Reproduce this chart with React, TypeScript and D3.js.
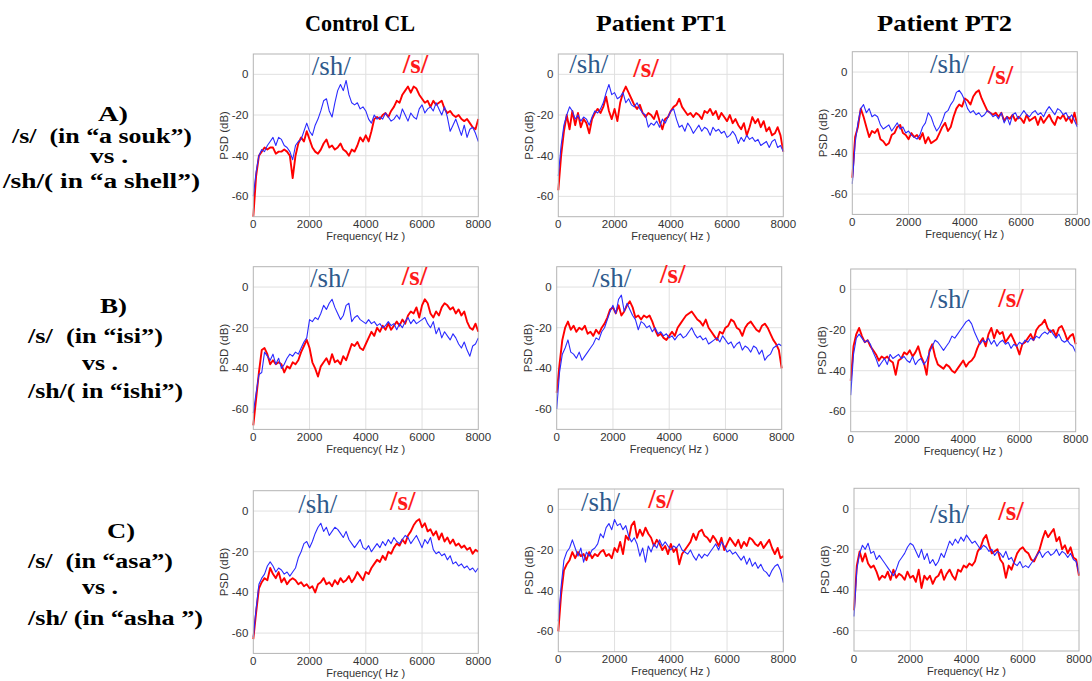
import * as d3 from "d3";

// Frequency bins shared by every spectrum (Hz)
const freqs = d3.range(0, 8001, 100);

// ---- Row A: /s/ (a souk) vs /sh/ (a shell) ----
const aClSh = [
  -60, -48, -40, -37, -38, -35, -33, -31, -35, -31,
  -32, -35, -36, -38, -42, -35, -33, -32, -28, -24,
  -28, -30, -25, -22, -18, -13, -12, -18, -21, -14,
  -8, -5, -8, -3, -10, -14, -15, -14, -17, -16,
  -18, -22, -24, -20, -22, -21, -22, -19, -21, -23,
  -22, -20, -22, -17, -20, -23, -19, -21, -22, -17,
  -15, -19, -17, -16, -18, -14, -17, -20, -16, -21,
  -28, -25, -22, -26, -30, -25, -31, -27, -26, -29,
  -33,
];
const aClS = [
  -70, -50, -40, -38, -36, -37, -36, -36, -39, -38,
  -38, -37, -38, -40, -51, -40, -34, -31, -33, -28,
  -32, -36, -38, -39, -37, -34, -32, -36, -35, -37,
  -36, -34, -37, -38, -40, -37, -38, -35, -31, -33,
  -30, -33, -28, -22, -21, -22, -20, -19, -21, -18,
  -16, -13, -14, -10, -8, -6, -9, -6, -7, -10,
  -12, -14, -13, -16, -13, -15, -14, -13, -17, -19,
  -18, -20, -21, -20, -22, -23, -22, -24, -26, -27,
  -22,
];
const aPt1Sh = [
  -50, -35, -25, -20, -16, -18, -22, -20, -23, -21,
  -22, -25, -21, -18, -19, -17, -14, -9, -5, -10,
  -9, -12, -11, -9, -14, -12, -15, -16, -14, -17,
  -19, -20, -26, -24, -25, -23, -26, -22, -24, -21,
  -18, -17, -22, -26, -25, -28, -24, -26, -29, -27,
  -25, -28, -26, -27, -30, -26, -28, -27, -29, -28,
  -31, -30, -28, -30, -34, -31, -33, -30, -32, -31,
  -33, -32, -35, -34, -33, -36, -33, -32, -36, -35,
  -38,
];
const aPt1S = [
  -57, -40, -28, -20, -27, -18, -25, -19, -26, -22,
  -24, -29, -22, -19, -17, -19, -16, -11, -18, -22,
  -17, -23, -14, -9, -6, -9, -12, -15, -17, -15,
  -19, -21, -19, -20, -22, -18, -23, -27, -22, -21,
  -18, -16, -15, -12, -16, -18, -20, -19, -21, -19,
  -20, -22, -18, -19, -17, -20, -18, -22, -19, -21,
  -23, -20, -24, -22, -25, -27, -24, -30, -26, -21,
  -24, -22, -26, -23, -28, -26, -30, -29, -26, -30,
  -38,
];
const aPt2Sh = [
  -55, -35, -25, -18, -16, -20, -18, -22, -21, -22,
  -26, -28, -27, -26, -29, -27, -25, -28, -27, -30,
  -29, -31, -32, -33, -31, -27, -25, -20, -22, -26,
  -29, -27, -24, -20, -19, -16, -14, -10, -9, -11,
  -14, -18, -20, -19, -21, -20, -22, -21, -19, -20,
  -22, -21, -23, -20, -25, -22, -26, -21, -20, -23,
  -21, -19, -21, -22, -20, -19, -21, -20, -22, -19,
  -17, -19, -21, -18, -19, -21, -20, -23, -21, -24,
  -27,
];
const aPt2S = [
  -52, -32, -27, -18, -22, -27, -32, -29, -30, -28,
  -33, -34, -36, -35, -31, -30, -27, -26, -30, -31,
  -33, -30, -32, -31, -33, -30, -35, -32, -35, -34,
  -33, -30, -27, -25, -29, -27, -22, -18, -16, -17,
  -13, -14, -16, -12, -10, -9, -13, -16, -19, -20,
  -21, -20, -22, -20, -24, -22, -23, -21, -24, -22,
  -23, -25, -21, -24, -23, -22, -26, -22, -25, -23,
  -21, -24, -26, -22, -23, -21, -24, -22, -25, -20,
  -26,
];

// ---- Row B: /s/ (isi) vs /sh/ (ishi) ----
const bClSh = [
  -62, -52, -43, -42, -32, -34, -36, -33, -38, -35,
  -40, -38, -35, -33, -34, -32, -33, -30, -27, -25,
  -16, -17, -15, -16, -13, -9, -11, -8, -6, -10,
  -13, -16, -14, -9, -8, -17, -15, -14, -16, -17,
  -18, -16, -18, -17, -19, -18, -20, -19, -17, -19,
  -18, -21, -18, -20, -17, -15, -18, -16, -18, -17,
  -16, -15, -18, -20, -17, -23, -20, -25, -22, -24,
  -26, -23, -25, -28, -30, -27, -31, -34, -29, -28,
  -25,
];
const bClS = [
  -68, -55, -42, -31, -30, -33, -38, -36, -38, -37,
  -38, -42, -39, -40, -37, -38, -36, -32, -29, -26,
  -30, -37, -40, -44, -39, -37, -35, -38, -33, -37,
  -36, -38, -34, -36, -32, -28, -29, -27, -30, -31,
  -28, -25, -22, -24, -20, -22, -19, -21, -18, -21,
  -19, -17, -19, -16, -18, -14, -12, -13, -10, -15,
  -9, -6, -8, -13, -15, -12, -14, -10, -8, -9,
  -11, -10, -13, -11, -14, -12, -17, -20, -21, -18,
  -22,
];
const bPt1Sh = [
  -60, -42, -33, -30, -26, -32, -33, -35, -32, -36,
  -34, -32, -30, -28, -25, -26, -22, -20, -16, -12,
  -9, -13, -6, -4, -12, -8, -11, -14, -16, -21,
  -17, -18, -20, -19, -22, -20, -23, -22, -24, -23,
  -25, -24, -26, -24, -23, -25, -24, -22, -20, -23,
  -25, -24, -26, -25, -28, -27, -26, -25, -27, -24,
  -26, -28, -27, -30, -28, -27, -31, -29, -30, -32,
  -29, -30, -33, -31, -36, -34, -33, -30, -29, -28,
  -29,
];
const bPt1S = [
  -52, -38, -26, -20, -17, -21, -19, -22, -20, -21,
  -19, -23, -22, -24, -21, -23, -20, -18, -15, -11,
  -10, -13, -9, -14, -12, -9, -7, -10, -15, -14,
  -16, -14, -15, -14, -17, -21, -24, -23, -25, -26,
  -24, -22, -24, -20, -18, -16, -14, -13, -12, -14,
  -16, -17, -19, -16, -20, -22, -24, -26, -22, -23,
  -20, -19, -16, -17, -20, -21, -24, -20, -18, -17,
  -19, -21, -22, -19, -18, -20, -23, -26, -28, -31,
  -40,
];
const bPt2Sh = [
  -52, -32, -24, -22, -24, -26, -25, -27, -31, -34,
  -38, -36, -34, -37, -32, -34, -33, -32, -34, -33,
  -35, -36, -33, -37, -35, -34, -37, -35, -31, -28,
  -25, -26, -28, -30, -28, -26, -23, -24, -22, -20,
  -18, -16, -15, -17, -21, -24, -27, -25, -26, -24,
  -27, -25, -28, -26, -25, -27, -26, -29, -27, -28,
  -26, -27, -25, -26, -24, -25, -23, -24, -22, -21,
  -22, -20, -22, -24, -22, -25, -26, -25, -27, -28,
  -31,
];
const bPt2S = [
  -45, -28, -22, -19, -23, -26, -25, -28, -30, -32,
  -35, -33, -34, -33, -35, -36, -42, -35, -34, -31,
  -32, -30, -33, -31, -28, -33, -36, -42, -30, -27,
  -33, -37, -38, -39, -37, -38, -40, -41, -39, -37,
  -35, -38, -36, -35, -33, -29, -26, -24, -28, -22,
  -19, -24, -20, -22, -21, -26, -24, -22, -25, -28,
  -32, -27, -26, -24, -22, -25, -20, -18, -17, -15,
  -19, -21, -20, -23, -19, -18, -21, -25, -23, -22,
  -27,
];

// ---- Row C: /s/ (asa) vs /sh/ (asha) ----
const cClSh = [
  -62, -48, -36, -33, -31, -27, -25, -27, -30, -28,
  -29, -31, -30, -32, -30, -28, -23, -20, -16, -15,
  -18, -15, -11, -8, -6, -10, -8, -12, -10, -8,
  -9, -11, -13, -10, -14, -16, -18, -16, -14, -18,
  -19, -17, -20, -18, -16, -18, -15, -17, -14, -16,
  -13, -15, -16, -14, -12, -13, -16, -14, -12, -15,
  -18, -14, -16, -13, -19, -21, -20, -22, -21, -24,
  -22, -26, -25, -27, -26, -28, -27, -29, -28, -30,
  -28,
];
const cClS = [
  -63, -50, -38, -35, -33, -34, -28, -31, -33, -30,
  -35, -33, -36, -34, -33, -34, -36, -35, -37, -36,
  -38, -37, -40, -36, -35, -33, -36, -35, -37, -34,
  -36, -33, -35, -34, -32, -35, -33, -30, -32, -34,
  -30, -31, -28, -26, -24, -25, -22, -24, -20, -21,
  -18, -16, -17, -14, -16, -12, -10, -7, -5, -4,
  -8, -6, -10, -9, -12, -10, -14, -11, -15, -13,
  -16, -14, -17, -16, -18, -17, -19, -18, -21, -19,
  -20,
];
const cPt1Sh = [
  -55, -38, -25, -21, -19, -15, -19, -23, -19, -26,
  -21, -23, -20, -19, -17, -12, -14, -9, -7, -10,
  -5, -8, -7, -10, -8, -13, -16, -14, -17, -23,
  -19, -26, -18, -21, -17, -19, -15, -18, -16, -18,
  -20, -18, -19, -17, -20, -21, -22, -20, -23, -25,
  -22, -24, -22, -23, -21, -19, -17, -20, -16, -18,
  -21, -20, -22, -21, -23, -25, -23, -27, -24, -28,
  -26, -29, -27, -30, -31, -33, -30, -28, -27, -30,
  -36,
];
const cPt1S = [
  -60, -42, -30, -27, -25, -21, -24, -21, -23, -22,
  -25, -21, -24, -22, -23, -21, -20, -23, -22, -24,
  -19, -21, -16, -22, -13, -15, -8, -6, -14, -10,
  -13, -9, -12, -14, -18, -15, -17, -20, -18, -22,
  -17, -21, -19, -27, -22, -20, -18, -16, -12, -15,
  -11, -10, -13, -14, -16, -13, -15, -18, -14, -20,
  -17, -14, -16, -18, -15, -19, -16, -18, -14, -15,
  -17, -18, -16, -19, -17, -15, -19, -22, -19, -24,
  -23,
];
const cPt2Sh = [
  -53, -30, -22, -18, -20, -17, -22, -21, -25, -23,
  -25, -27, -29, -31, -33, -30, -26, -24, -22, -19,
  -17, -18, -21, -24, -20, -25, -22, -27, -25, -28,
  -26, -22, -24, -20, -16, -18, -15, -17, -14, -16,
  -13, -15, -17, -16, -18, -20, -18, -19, -21, -20,
  -23, -21, -22, -24, -21, -25, -24, -27, -28, -26,
  -29, -28, -29, -27, -25, -23, -21, -24, -22, -21,
  -23, -22, -20, -23, -21, -22, -24, -22, -25, -26,
  -32,
];
const cPt2S = [
  -50, -28, -21, -26, -22, -27, -29, -28, -31, -35,
  -33, -34, -31, -35, -30, -34, -32, -33, -35, -31,
  -34, -33, -36, -30, -39, -33, -35, -33, -37, -34,
  -33, -30, -35, -32, -30, -33, -35, -30, -31, -28,
  -29, -27, -28, -26, -21, -19, -15, -13, -18, -22,
  -21, -20, -25, -27, -34, -28, -30, -26, -22, -20,
  -19, -21, -22, -25, -26, -23, -20, -15, -11, -14,
  -12, -10, -16, -14, -20, -18, -22, -19, -24, -25,
  -33,
];

const columnTitles = ["Control CL", "Patient PT1", "Patient PT2"];
const rowLabels = [
  ["A)", "/s/  (in \u201ca souk\u201d)", "vs .", "/sh/( in \u201ca shell\u201d)"],
  ["B)", "/s/  (in \u201cisi\u201d)", "vs .", "/sh/( in \u201cishi\u201d)"],
  ["C)", "/s/  (in \u201casa\u201d)", "vs .", "/sh/ (in \u201casha \u201d)"],
];
const xTicks = [0, 2000, 4000, 6000, 8000];
const yTicks = [0, -20, -40, -60];

// ---- layout (pixels) ----
const W = 225;
const H = 162.7;
const panelLeft = [
  [253.3, 558.3, 852.3],
  [253.3, 556.7, 850.7],
  [253.3, 558.3, 854],
];
const panelTop = [
  [54, 54, 51.7],
  [266.7, 266.7, 269],
  [490.7, 489, 488.3],
];
// where the /sh/ and /s/ tags sit, in data units [Hz, dB]
const tagPos = [
  [[[2076, -0.3], [5312, 0.5]], [[391, 0.5], [2667, -1.1]], [[2763, -0.3], [4815, -5.9]]],
  [[[2016, 0.2], [5277, 1]], [[1266, 0.2], [3673, 1.9]], [[2820, -9.3], [5249, -8.5]]],
  [[[1600, -1.1], [4861, 0.5]], [[807, -0.8], [3200, 0.5]], [[2703, -7.2], [5131, -5.6]]],
];
const series = [
  [[aClS, aClSh], [aPt1S, aPt1Sh], [aPt2S, aPt2Sh]],
  [[bClS, bClSh], [bPt1S, bPt1Sh], [bPt2S, bPt2Sh]],
  [[cClS, cClSh], [cPt1S, cPt1Sh], [cPt2S, cPt2Sh]],
];
// row label lines: [x, baseline, width]
const rowLabelPos = [
  [[98, 121, 30], [12, 143, 180], [90, 163, 38], [3, 188, 197]],
  [[100, 313, 27], [28, 343, 135], [82, 370, 36], [28, 398, 155]],
  [[107, 538, 28], [28, 568, 145], [82, 594, 36], [28, 625, 175]],
];
const titlePos = [
  [305, 110],
  [596, 131],
  [877, 135],
];

const SANS = "'Liberation Sans', Arial, sans-serif";
const SERIF = "'Liberation Serif', 'Times New Roman', serif";

function Panel({ row, col }: { row: number; col: number }) {
  const left = panelLeft[row][col];
  const top = panelTop[row][col];
  const x = d3.scaleLinear().domain([0, 8000]).range([left, left + W]);
  const y = d3.scaleLinear().domain([-70, 10]).range([top + H, top]);
  const line = d3
    .line<number>()
    .x((_, i) => x(freqs[i]))
    .y((d) => y(d));
  const [sVals, shVals] = series[row][col];
  const [shAt, sAt] = tagPos[row][col];

  return (
    <g>
      <rect x={left} y={top} width={W} height={H} fill="#fff" />
      {xTicks.slice(1, -1).map((t) => (
        <line key={"gx" + t} x1={x(t)} x2={x(t)} y1={top} y2={top + H} stroke="#e0e0e0" />
      ))}
      {yTicks.map((t) => (
        <line key={"gy" + t} x1={left} x2={left + W} y1={y(t)} y2={y(t)} stroke="#e0e0e0" />
      ))}
      <path d={line(sVals) || ""} fill="none" stroke="#ff0000" strokeWidth={1.9} strokeLinejoin="round" />
      <path d={line(shVals) || ""} fill="none" stroke="#2b2bff" strokeWidth={1.1} strokeLinejoin="round" />
      <rect x={left} y={top} width={W} height={H} fill="none" stroke="#b4b4b4" />
      {xTicks.map((t) => (
        <text key={"tx" + t} x={x(t)} y={top + H + 11.5} textAnchor="middle" fontSize={11.5} fontFamily={SANS} fill="#333">
          {t}
        </text>
      ))}
      {yTicks.map((t) => (
        <text key={"ty" + t} x={left - 5} y={y(t) + 4} textAnchor="end" fontSize={11.5} fontFamily={SANS} fill="#333">
          {t}
        </text>
      ))}
      <text x={left + W / 2} y={top + H + 23.5} textAnchor="middle" fontSize={11} fontFamily={SANS} fill="#333">
        Frequency( Hz )
      </text>
      <text
        transform={`translate(${left - 25},${top + H / 2}) rotate(-90)`}
        textAnchor="middle"
        fontSize={11.5}
        fontFamily={SANS}
        fill="#333"
      >
        PSD (dB)
      </text>
      <text x={x(shAt[0])} y={y(shAt[1])} fontSize={27} fontFamily={SERIF} fill="#2f5a8c">
        /sh/
      </text>
      <text x={x(sAt[0])} y={y(sAt[1])} fontSize={27} fontWeight="bold" fontFamily={SERIF} fill="#ff1a1a">
        /s/
      </text>
    </g>
  );
}

export default function App() {
  return (
    <svg
      width={1092}
      height={681}
      style={{ position: "absolute", left: 0, top: 0, background: "#fff" }}
    >
      <rect width={1092} height={681} fill="#fff" />
      {columnTitles.map((t, i) => (
        <text
          key={t}
          x={titlePos[i][0]}
          y={31}
          textLength={titlePos[i][1]}
          lengthAdjust="spacingAndGlyphs"
          fontSize={23}
          fontWeight="bold"
          fontFamily={SERIF}
        >
          {t}
        </text>
      ))}
      {rowLabels.map((lines, r) =>
        lines.map((txt, k) => (
          <text
            key={r + "-" + k}
            x={rowLabelPos[r][k][0]}
            y={rowLabelPos[r][k][1]}
            textLength={rowLabelPos[r][k][2]}
            lengthAdjust="spacingAndGlyphs"
            fontSize={20}
            fontWeight="bold"
            fontFamily={SERIF}
            style={{ whiteSpace: "pre" }}
          >
            {txt}
          </text>
        ))
      )}
      {[0, 1, 2].map((r) => [0, 1, 2].map((c) => <Panel key={r + "-" + c} row={r} col={c} />))}
    </svg>
  );
}
